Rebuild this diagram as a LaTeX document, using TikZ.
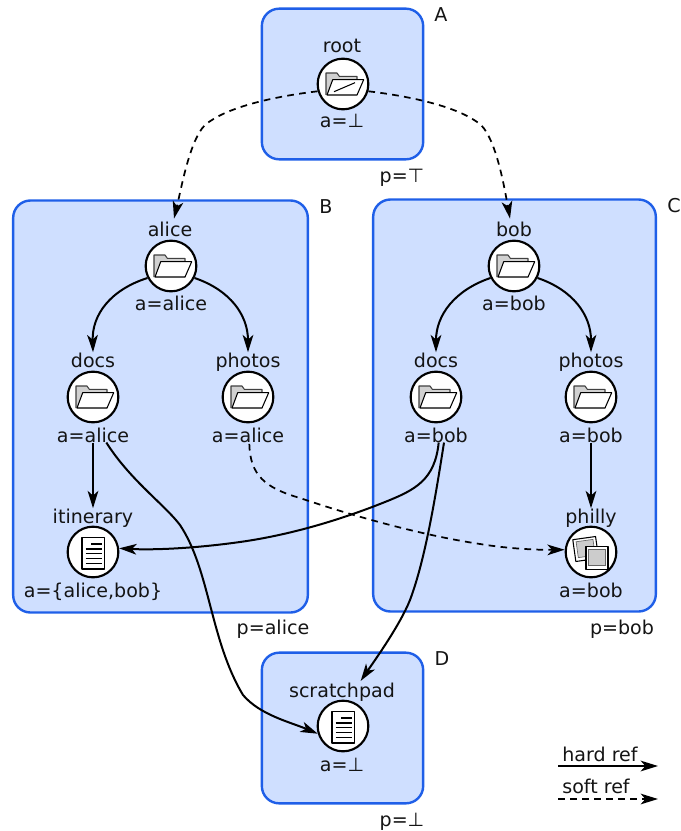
\documentclass[tikz,border=0pt]{standalone}
\usepackage{fontspec}
\setmainfont{DejaVu Sans}
\usetikzlibrary{arrows.meta}
\definecolor{boxfill}{HTML}{CFDFFF}
\definecolor{boxline}{HTML}{1F5FE8}
\tikzset{
  x=0.75pt,y=-0.75pt,
  region/.style={draw=boxline,fill=boxfill,line width=1.8pt,rounded corners=13pt,inner sep=0pt,minimum width=#1},
  inode/.style={circle,draw=black,fill=white,line width=1.6pt,minimum size=38pt,inner sep=0pt},
  txt/.style={anchor=base,inner sep=0pt,font=\fontsize{14.3pt}{16pt}\selectfont,text=black!92},
  hardref/.style={line width=1.5pt,-{Stealth[length=13pt,width=8pt,inset=3.5pt]}},
  softref/.style={line width=1.3pt,dash pattern=on 5pt off 4pt,-{Stealth[length=13pt,width=8pt,inset=3.5pt]}},
  iconline/.style={draw=black,line width=0.8pt,line join=round},
  folder/.pic={
    \fill[black!18] (-17,11) -- (-17,-11) -- (-6,-11) -- (-3.7,-7.7) -- (14,-7.7) -- (14,11) -- cycle;
    \draw[iconline,draw=black!75] (-17,11) -- (-17,-11) -- (-6,-11) -- (-3.7,-7.7) -- (14,-7.7) -- (14,11);
    \draw[iconline,fill=white] (-16,11) -- (-10.3,-4.3) -- (20.7,-4.3) -- (14,11) -- cycle;
  },
  slash/.pic={\draw[black,line width=0.8pt] (-9,7.7) -- (12,-1.3);},
  document/.pic={
    \draw[iconline,fill=white] (-11,-14.5) rectangle (11.3,17);
    \draw[black,line width=0.9pt] (-2,-8) -- (9,-8);
    \foreach \ly in {-3,1.7,6.6,11.3} \draw[black,line width=0.9pt] (-7.3,\ly) -- (8.7,\ly);
  },
  picture/.pic={
    \begin{scope}[shift={(-5.3,-3)},rotate=8]
      \draw[iconline,fill=white] (-11.5,-11) rectangle (11.5,11);
      \draw[draw=black!60,line width=0.5pt,fill=black!20] (-8.5,-8.5) rectangle (8.5,7.5);
    \end{scope}
    \begin{scope}[shift={(6,6)}]
      \draw[iconline,fill=white] (-11,-11.5) rectangle (11,11.5);
      \draw[draw=black!60,line width=0.5pt,fill=black!20] (-8.5,-9) rectangle (8.5,7.5);
    \end{scope}
  },
}
\begin{document}
\begin{tikzpicture}
\useasboundingbox (0,0) rectangle (681,831);
% regions
\node[region=121pt,minimum height=113pt] (A) at (342.5,84) {};
\node[region=221pt,minimum height=309pt] (B) at (160.5,406.5) {};
\node[region=212pt,minimum height=309pt] (C) at (514.5,405.5) {};
\node[region=121pt,minimum height=113pt] (D) at (342.5,728) {};
\node[txt] (Al) at (441,22) {A};
\node[txt] (Bl) at (326,213) {B};
\node[txt] (Cl) at (674,212) {C};
\node[txt] (Dl) at (442,665) {D};
\node[txt] (Ap) at (402,182) {p=⊤};
\node[txt] (Bp) at (273,634) {p=alice};
\node[txt] (Cp) at (622,634) {p=bob};
\node[txt] (Dp) at (402,826) {p=⊥};
% inodes
\node[inode] (root) at (343,84) {};
\node[inode] (alice) at (171,266) {};
\node[inode] (bob) at (514,266) {};
\node[inode] (docsa) at (93,397) {};
\node[inode] (photosa) at (248,397) {};
\node[inode] (docsb) at (436,397) {};
\node[inode] (photosb) at (591,397) {};
\node[inode] (itin) at (93,552) {};
\node[inode] (philly) at (591,552) {};
\node[inode] (scratch) at (343,726) {};
\pic at (root) {folder}; \pic at (root) {slash};
\pic at (alice) {folder};
\pic at (bob) {folder};
\pic at (docsa) {folder};
\pic at (photosa) {folder};
\pic at (docsb) {folder};
\pic at (photosb) {folder};
\pic at (itin) {document};
\pic at (scratch) {document};
\pic at (philly) {picture};
% names and attributes
\node[txt] (rootn) at (342,53) {root};
\node[txt] (roota) at (342,128) {a=⊥};
\node[txt] (alicen) at (170,236) {alice};
\node[txt] (alicea) at (171,310) {a=alice};
\node[txt] (bobn) at (514,236) {bob};
\node[txt] (boba) at (514,310) {a=bob};
\node[txt] (docsan) at (93,367) {docs};
\node[txt] (docsaa) at (93,442) {a=alice};
\node[txt] (photosan) at (248,367) {photos};
\node[txt] (photosaa) at (248,442) {a=alice};
\node[txt] (docsbn) at (436,367) {docs};
\node[txt] (docsba) at (436,442) {a=bob};
\node[txt] (photosbn) at (591,367) {photos};
\node[txt] (photosba) at (591,442) {a=bob};
\node[txt] (itinn) at (93,523) {itinerary};
\node[txt] (itina) at (93,597) {a=\{alice,bob\}};
\node[txt] (phillyn) at (591,523) {philly};
\node[txt] (phillya) at (591,597) {a=bob};
\node[txt] (scratchn) at (342,697) {scratchpad};
\node[txt] (scratcha) at (342,771) {a=⊥};
% soft refs
\draw[softref] (root.196) .. controls (270,97) and (225,108) .. (205,125)
  .. controls (190,140) and (182,185) .. ([xshift=3pt,yshift=2pt]alicen.north);
\draw[softref] (root.344) .. controls (416,97) and (461,108) .. (481,125)
  .. controls (496,140) and (504,185) .. ([xshift=-3pt,yshift=2pt]bobn.north);
\draw[softref] ([xshift=1pt,yshift=-1pt]photosaa.south) .. controls (250,475) and (265,488) .. (300,498)
  .. controls (350,515) and (420,535) .. (480,544)
  .. controls (510,549) and (540,550) .. (philly.175);
% hard refs
\draw[hardref] (alice.207) .. controls (110,290) and (92,315) .. (docsan.north);
\draw[hardref] (alice.333) .. controls (230,290) and (248,315) .. (photosan.north);
\draw[hardref] (bob.207) .. controls (455,290) and (436,315) .. (docsbn.north);
\draw[hardref] (bob.333) .. controls (573,290) and (591,315) .. (photosbn.north);
\draw[hardref] (docsaa.south) -- (itinn.north);
\draw[hardref] (photosba.south) -- (phillyn.north);
\draw[hardref] ([xshift=10pt]docsaa.south) .. controls (130,480) and (165,505) .. (180,525)
  .. controls (210,570) and (210,640) .. (243,695)
  .. controls (260,715) and (290,722) .. (scratch.197);
\draw[hardref] ([xshift=2pt]docsba.south) .. controls (435,480) and (415,490) .. (385,502)
  .. controls (340,520) and (290,535) .. (240,542)
  .. controls (190,549) and (150,550) .. (itin.8);
\draw[hardref] ([xshift=6pt]docsba.south) .. controls (435,500) and (425,560) .. (410,600)
  .. controls (400,625) and (375,660) .. ([xshift=14pt,yshift=1pt]scratchn.north);
% legend
\node[txt] (hardl) at (600,761) {hard ref};
\node[txt] (softl) at (596,793) {soft ref};
\coordinate (h1) at (558,766); \coordinate (h2) at (658,766);
\coordinate (s1) at (558,799); \coordinate (s2) at (658,799);
\draw[hardref] (h1) -- (h2);
\draw[softref] (s1) -- (s2);
\end{tikzpicture}
\end{document}
